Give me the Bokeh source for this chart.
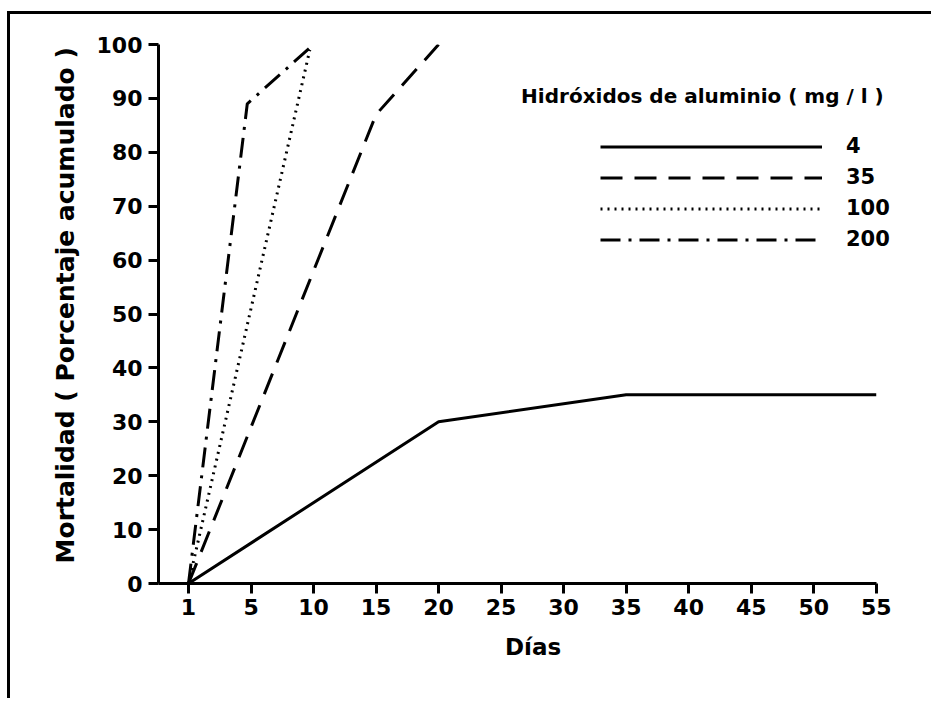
from bokeh.plotting import figure
from bokeh.models import Range1d, FixedTicker, Legend, LegendItem, Label
from bokeh.embed import file_html
from bokeh.resources import INLINE

# ---- data (x positions on the evenly spaced day axis; first tick "1" sits at 0) ----
tick_pos = [0, 5, 10, 15, 20, 25, 30, 35, 40, 45, 50, 55]
tick_labels = ["1", "5", "10", "15", "20", "25", "30", "35", "40", "45", "50", "55"]
y_ticks = [0, 10, 20, 30, 40, 50, 60, 70, 80, 90, 100]

x_4 = [0, 20, 35, 55]
y_4 = [0, 30, 35, 35]
x_35 = [0, 15, 20]
y_35 = [0, 87, 100]
x_100 = [0, 9.7]
y_100 = [0, 99]
x_200 = [0, 4.7, 10]
y_200 = [0, 89, 100]

series_names = ["4", "35", "100", "200"]
legend_title = "Hidróxidos de aluminio ( mg / l )"
x_title = "Días"
y_title = "Mortalidad  ( Porcentaje acumulado )"

FONT = "DejaVu Sans"

p = figure(width=924, height=687, output_backend="svg", toolbar_location=None,
           x_range=Range1d(-2.4, 57.5), y_range=Range1d(0, 100),
           min_border_left=148, min_border_right=27, min_border_top=30, min_border_bottom=118)
p.styles = {"margin-top": "11px", "margin-left": "7px",
            "border-top": "3px solid black", "border-left": "3px solid black"}
p.outline_line_color = None
p.background_fill_color = "white"
p.border_fill_color = "white"
p.grid.visible = False

# axes
p.xaxis.ticker = FixedTicker(ticks=tick_pos)
p.xaxis.major_label_overrides = {t: l for t, l in zip(tick_pos, tick_labels)}
p.xaxis.bounds = (-2.4, 55)
p.yaxis.ticker = FixedTicker(ticks=y_ticks)
for ax in (p.xaxis, p.yaxis):
    ax.axis_line_width = 3
    ax.axis_line_color = "black"
    ax.major_tick_line_width = 3
    ax.major_tick_line_color = "black"
    ax.major_tick_in = 0
    ax.major_tick_out = 10
    ax.minor_tick_line_color = None
    ax.major_label_text_font = FONT
    ax.major_label_text_font_style = "bold"
    ax.major_label_text_font_size = "22px"
    ax.major_label_text_color = "black"
    ax.axis_label_text_font = FONT
    ax.axis_label_text_font_style = "bold"
    ax.axis_label_text_color = "black"
p.xaxis.axis_label_text_font_size = "23px"
p.yaxis.axis_label_text_font_size = "25px"
p.xaxis.major_label_standoff = 5
p.yaxis.major_label_standoff = 6
p.xaxis.axis_label = x_title
p.xaxis.axis_label_standoff = 16
p.yaxis.axis_label = "\u00a0" * 3 + y_title
p.yaxis.axis_label_standoff = 14

r4 = p.line(x_4, y_4, line_color="black", line_width=3)
r35 = p.line(x_35, y_35, line_color="black", line_width=3, line_dash="22 12")
r100 = p.line(x_100, y_100, line_color="black", line_width=3, line_dash="2 5")
r200 = p.line(x_200, y_200, line_color="black", line_width=3, line_dash="20 8 3 8")

legend = Legend(items=[LegendItem(label=n, renderers=[r]) for n, r in zip(series_names, [r4, r35, r100, r200])],
                location=(442, 332), orientation="vertical",
                glyph_width=222, glyph_height=23, label_height=23, spacing=7,
                label_standoff=24, padding=0, margin=0,
                border_line_color=None, background_fill_alpha=0,
                label_text_font=FONT, label_text_font_style="bold",
                label_text_font_size="21px", label_text_color="black")
p.add_layout(legend)

p.add_layout(Label(x=26.6, y=90.5, text=legend_title, text_font=FONT, text_font_style="bold",
                   text_font_size="20px", text_baseline="middle", text_align="left", text_color="black"))

open("out.html", "w").write(file_html(p, INLINE))
